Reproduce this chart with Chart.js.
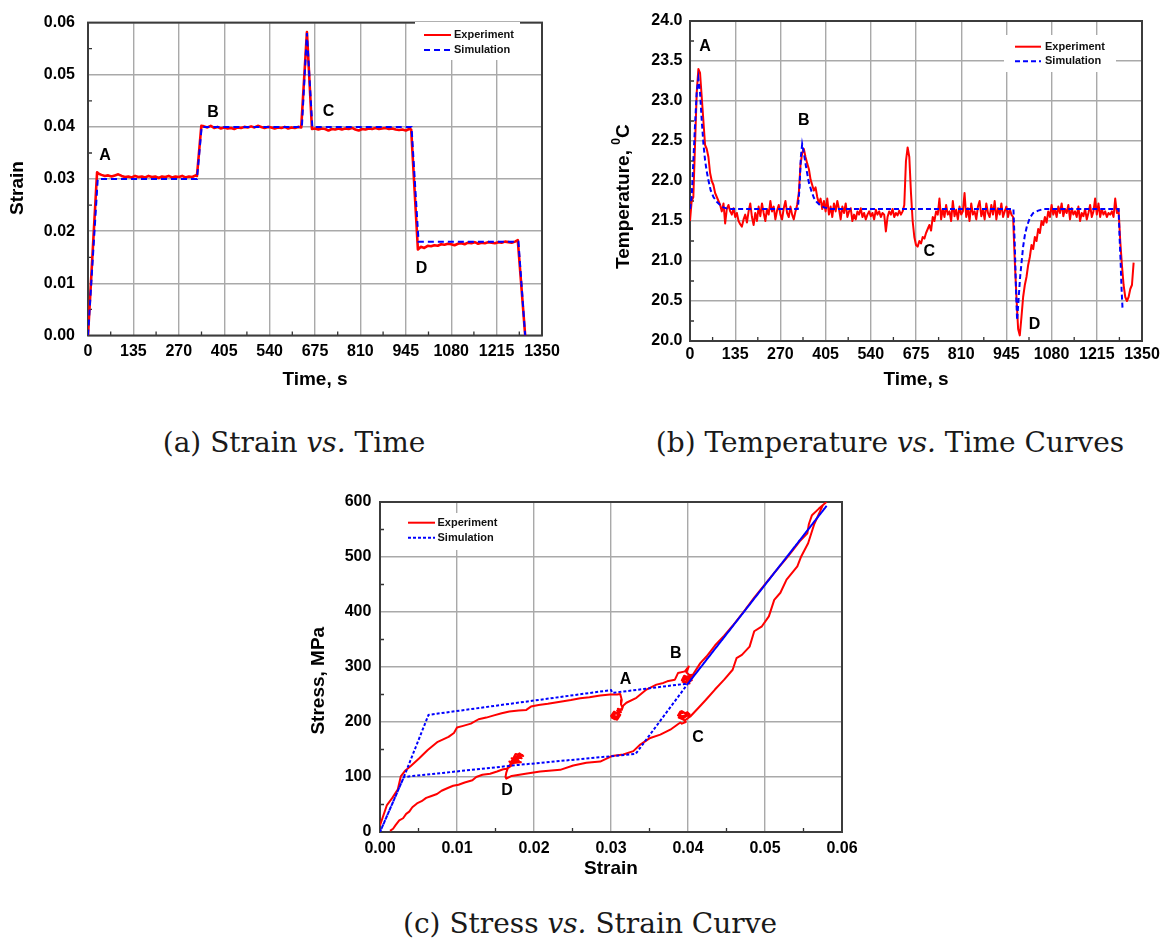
<!DOCTYPE html>
<html>
<head>
<meta charset="utf-8">
<script src="https://cdn.jsdelivr.net/npm/chart.js@4.4.1/dist/chart.umd.min.js"></script>
<style>
  body { margin: 0; background: #fff; width: 1166px; height: 951px; position: relative; overflow: hidden; }
  .box { position: absolute; }
  .cap { position: absolute; width: 600px; text-align: center; font-family: "DejaVu Serif", serif;
         font-size: 28px; line-height: 28px; color: #1a1a1a; white-space: nowrap; }
</style>
</head>
<body>
<div class="box" style="left:0;top:0;width:580px;height:400px"><canvas id="strainChart"></canvas></div>
<div class="box" style="left:600px;top:0;width:566px;height:400px"><canvas id="tempChart"></canvas></div>
<div class="box" style="left:290px;top:480px;width:580px;height:410px"><canvas id="stressChart"></canvas></div>
<div class="cap" style="left:-6px;top:429px">(a) Strain <i>vs.</i> Time</div>
<div class="cap" style="left:590px;top:429px">(b) Temperature <i>vs.</i> Time Curves</div>
<div class="cap" style="left:290px;top:910px">(c) Stress <i>vs.</i> Strain Curve</div>
<script>
// ---- tick labels ----
const timeTicks = [0, 135, 270, 405, 540, 675, 810, 945, 1080, 1215, 1350];
const strainTicks = [0, 0.01, 0.02, 0.03, 0.04, 0.05, 0.06];
const tempTicks = [20.0, 20.5, 21.0, 21.5, 22.0, 22.5, 23.0, 23.5, 24.0];
const stressTicks = [0, 100, 200, 300, 400, 500, 600];

// ---- (a) strain vs time ----
const strainExpTime = [0, 27, 32, 40, 50, 60, 70, 80, 90, 100, 110, 120, 130, 140, 150, 160, 170, 180, 190, 200,
  210, 220, 230, 240, 250, 260, 270, 280, 290, 300, 310, 320, 324,
  337, 345, 355, 365, 375, 385, 395, 405, 415, 425, 435, 445, 455, 465, 475, 485, 495, 505, 515, 525, 535,
  545, 555, 565, 575, 585, 595, 605, 615, 625, 634,
  651, 666, 675, 685, 695, 705, 715, 725, 735, 745, 755, 765, 775, 785, 795, 805, 815, 825, 835, 845, 855,
  865, 875, 885, 895, 905, 915, 925, 935, 945, 955, 961,
  981, 990, 1000, 1010, 1020, 1030, 1040, 1050, 1060, 1070, 1080, 1090, 1100, 1110, 1120, 1130, 1140, 1150,
  1160, 1170, 1180, 1190, 1200, 1210, 1220, 1230, 1240, 1250, 1260, 1270, 1278, 1300];
const strainExp = [0, 0.0313, 0.0310, 0.0308, 0.0306, 0.0307, 0.0305, 0.0307, 0.0309, 0.0306, 0.0304, 0.0305,
  0.0303, 0.0306, 0.0304, 0.0305, 0.0303, 0.0306, 0.0304, 0.0305, 0.0302, 0.0305, 0.0304, 0.0306, 0.0303,
  0.0305, 0.0304, 0.0306, 0.0303, 0.0305, 0.0304, 0.0307, 0.0306,
  0.0402, 0.0401, 0.0399, 0.0402, 0.0398, 0.0400, 0.0397, 0.0399, 0.0397, 0.0398, 0.0396, 0.0399, 0.0398,
  0.0400, 0.0399, 0.0401, 0.0399, 0.0402, 0.0400, 0.0398, 0.0400, 0.0399, 0.0397, 0.0399, 0.0398, 0.0400,
  0.0397, 0.0399, 0.0398, 0.0400, 0.0399,
  0.0582, 0.0396, 0.0397, 0.0395, 0.0397, 0.0396, 0.0393, 0.0396, 0.0395, 0.0397, 0.0395, 0.0397, 0.0396,
  0.0398, 0.0395, 0.0393, 0.0396, 0.0395, 0.0397, 0.0396, 0.0398, 0.0396, 0.0397, 0.0398, 0.0396, 0.0397,
  0.0395, 0.0394, 0.0395, 0.0393, 0.0396, 0.0395,
  0.0165, 0.0170, 0.0168, 0.0172, 0.0171, 0.0173, 0.0172, 0.0175, 0.0174, 0.0176, 0.0175, 0.0173, 0.0176,
  0.0177, 0.0175, 0.0178, 0.0177, 0.0179, 0.0176, 0.0178, 0.0177, 0.0179, 0.0178, 0.0177, 0.0179, 0.0178,
  0.0180, 0.0179, 0.0178, 0.0180, 0.0183, 0];
const strainSimTime = [0, 29, 324, 338, 636, 651, 667, 962, 983, 1280, 1300];
const strainSim = [0, 0.030, 0.030, 0.040, 0.040, 0.058, 0.040, 0.040, 0.018, 0.018, 0];

// ---- (b) temperature vs time ----
const tempExpStep = 5; // seconds between samples, first sample at t = 0
const tempExp = [
  21.50, 21.75, 21.80, 22.45, 23.10, 23.40, 23.35, 23.05, 22.75, 22.45,
  22.40, 22.30, 22.10, 22.00, 21.95, 21.85, 21.80, 21.75, 21.70, 21.62,
  21.72, 21.47, 21.65, 21.70, 21.62, 21.58, 21.66, 21.55, 21.60, 21.50,
  21.46, 21.43, 21.52, 21.58, 21.48, 21.62, 21.72, 21.55, 21.45, 21.60,
  21.50, 21.68, 21.56, 21.72, 21.60, 21.50, 21.65, 21.58, 21.75, 21.62,
  21.68, 21.52, 21.63, 21.70, 21.58, 21.52, 21.66, 21.75, 21.60, 21.55,
  21.68, 21.58, 21.52, 21.62, 21.70, 21.85, 22.20, 22.35, 22.40, 22.30,
  22.22, 22.15, 22.02, 21.95, 21.88, 21.92, 21.80, 21.72, 21.78, 21.65,
  21.75, 21.62, 21.78, 21.58, 21.68, 21.55, 21.72, 21.62, 21.75, 21.65,
  21.52, 21.68, 21.60, 21.72, 21.55, 21.62, 21.66, 21.50, 21.58, 21.52,
  21.62, 21.58, 21.66, 21.55, 21.60, 21.52, 21.58, 21.62, 21.56, 21.60,
  21.52, 21.64, 21.58, 21.62, 21.55, 21.60, 21.58, 21.37, 21.55, 21.62,
  21.58, 21.65, 21.55, 21.60, 21.57, 21.63, 21.58, 21.62, 21.70, 22.25,
  22.42, 22.30, 21.85, 21.50, 21.30, 21.20, 21.18, 21.25, 21.22, 21.30,
  21.28, 21.35, 21.40, 21.45, 21.38, 21.55, 21.50, 21.62, 21.58, 21.78,
  21.52, 21.65, 21.55, 21.70, 21.58, 21.62, 21.50, 21.75, 21.56, 21.64,
  21.52, 21.68, 21.58, 21.62, 21.85, 21.55, 21.66, 21.50, 21.72, 21.58,
  21.62, 21.52, 21.68, 21.75, 21.56, 21.64, 21.52, 21.72, 21.60, 21.55,
  21.70, 21.58, 21.75, 21.52, 21.66, 21.58, 21.72, 21.55, 21.62, 21.68,
  21.55, 21.65, 21.58, 21.55, 21.00, 20.55, 20.15, 20.07, 20.30, 20.55,
  20.70, 20.80, 20.95, 21.05, 21.20, 21.15, 21.30, 21.25, 21.40, 21.35,
  21.50, 21.45, 21.55, 21.48, 21.62, 21.55, 21.70, 21.58, 21.65, 21.55,
  21.68, 21.60, 21.72, 21.56, 21.65, 21.60, 21.70, 21.52, 21.66, 21.58,
  21.62, 21.55, 21.68, 21.50, 21.60, 21.56, 21.65, 21.52, 21.60, 21.70,
  21.55, 21.62, 21.78, 21.58, 21.72, 21.55, 21.65, 21.58, 21.62, 21.55,
  21.60, 21.58, 21.62, 21.55, 21.78, 21.60, 21.65, 21.25, 20.95, 20.70,
  20.55, 20.50, 20.55, 20.65, 20.70, 20.98];
const tempSimTime = [0, 5, 10, 15, 20, 25, 30, 35, 40, 45, 50, 55, 62, 70, 80, 90, 100, 115,
  322, 327, 331, 335, 340, 348, 355, 363, 370, 378, 388, 400, 420,
  966, 970, 974, 977, 981, 986, 990, 995, 1000, 1006, 1015, 1025, 1040, 1055,
  1280, 1283, 1286, 1289, 1292];
const tempSim = [21.65, 21.80, 22.25, 22.70, 23.10, 23.28, 23.10, 22.76, 22.47, 22.26, 22.12, 22.01, 21.88,
  21.80, 21.74, 21.70, 21.67, 21.65,
  21.65, 21.90, 22.30, 22.46, 22.35, 22.14, 21.98, 21.87, 21.79, 21.74, 21.70, 21.67, 21.65,
  21.65, 21.20, 20.60, 20.26, 20.50, 20.80, 20.97, 21.18, 21.32, 21.43, 21.54, 21.60, 21.63, 21.65,
  21.65, 21.30, 21.00, 20.65, 20.39];

// ---- (c) stress vs strain, [strain, stress MPa] in the order they were recorded ----
const ssExpPoints = [
  [0.0000, 12], [0.0009, 49], [0.0016, 62], [0.0023, 77], [0.0027, 101], [0.0033, 112], [0.0040, 120],
  [0.0051, 134], [0.0062, 149], [0.0075, 164], [0.0089, 173], [0.0096, 180], [0.0100, 190], [0.0108, 193],
  [0.0118, 197], [0.0128, 205], [0.0138, 208], [0.0148, 212], [0.0158, 216], [0.0168, 219], [0.0180, 221],
  [0.0190, 222], [0.0196, 228], [0.0206, 231], [0.0218, 233], [0.0234, 237], [0.0248, 240], [0.0260, 243],
  [0.0272, 245], [0.0286, 248], [0.0299, 250], [0.0308, 250], [0.0312, 251],
  // hold at A
  [0.0314, 240], [0.0313, 232], [0.0315, 226], [0.0312, 222], [0.0309, 218], [0.0304, 214], [0.0301, 208],
  [0.0305, 205], [0.0310, 209], [0.0302, 212], [0.0307, 216], [0.0311, 211], [0.0303, 207], [0.0308, 204],
  [0.0312, 213], [0.0304, 219], [0.0300, 211], [0.0306, 206], [0.0311, 216], [0.0308, 221], [0.0313, 218],
  [0.0309, 224], [0.0314, 222], [0.0316, 230],
  [0.0320, 235], [0.0333, 244], [0.0346, 259], [0.0359, 268], [0.0368, 271], [0.0373, 274], [0.0383, 277],
  [0.0387, 289], [0.0396, 292], [0.0401, 301],
  // hold at B
  [0.0398, 290], [0.0403, 284], [0.0394, 280], [0.0400, 274], [0.0404, 279], [0.0395, 284], [0.0392, 276],
  [0.0399, 271], [0.0405, 276], [0.0397, 282], [0.0393, 273], [0.0402, 270], [0.0398, 280], [0.0404, 286],
  [0.0400, 278], [0.0405, 283],
  [0.0416, 307], [0.0424, 319], [0.0435, 339], [0.0447, 357], [0.0458, 375], [0.0472, 400], [0.0486, 426],
  [0.0502, 454], [0.0516, 478], [0.0528, 498], [0.0537, 514], [0.0546, 530], [0.0555, 543], [0.0557, 560],
  [0.0561, 576], [0.0570, 588], [0.0579, 599],
  // unloading
  [0.0575, 594], [0.0564, 560], [0.0556, 525], [0.0547, 501], [0.0542, 483], [0.0528, 459], [0.0520, 435],
  [0.0512, 422], [0.0505, 392], [0.0496, 374], [0.0486, 365], [0.0480, 337], [0.0470, 322], [0.0463, 316],
  [0.0458, 295], [0.0447, 277], [0.0435, 259], [0.0423, 240], [0.0417, 231], [0.0403, 210],
  // hold at C
  [0.0398, 216], [0.0390, 219], [0.0387, 212], [0.0394, 207], [0.0400, 213], [0.0392, 220], [0.0388, 208],
  [0.0396, 203], [0.0402, 209], [0.0395, 217], [0.0389, 215], [0.0393, 205], [0.0399, 218], [0.0402, 214],
  [0.0391, 210], [0.0397, 200], [0.0392, 197], [0.0390, 199],
  [0.0377, 186], [0.0364, 177], [0.0351, 171], [0.0338, 159], [0.0329, 147], [0.0316, 141], [0.0301, 138],
  [0.0286, 128], [0.0268, 126], [0.0251, 121], [0.0234, 113], [0.0208, 110], [0.0189, 106], [0.0171, 102],
  [0.0164, 97],
  // hold at D
  [0.0163, 100], [0.0164, 108], [0.0166, 116], [0.0172, 122], [0.0168, 128], [0.0176, 126], [0.0171, 134],
  [0.0180, 130], [0.0175, 138], [0.0184, 134], [0.0178, 141], [0.0186, 138], [0.0181, 143], [0.0174, 131],
  [0.0183, 127], [0.0170, 125], [0.0178, 133], [0.0185, 140], [0.0176, 142], [0.0168, 120], [0.0165, 115],
  [0.0160, 114], [0.0152, 110], [0.0143, 106], [0.0133, 104], [0.0125, 100], [0.0120, 94], [0.0110, 90],
  [0.0102, 86], [0.0095, 84], [0.0088, 80], [0.0080, 75], [0.0074, 69], [0.0066, 65], [0.0060, 62],
  [0.0054, 56], [0.0048, 52], [0.0042, 45], [0.0038, 37], [0.0034, 33], [0.0030, 25], [0.0025, 21],
  [0.0020, 12], [0.0017, 6], [0.0013, 2]];
const ssSimPoints = [[0, 0], [0.0031, 100], [0.0063, 213], [0.0300, 258], [0.0302, 253], [0.0400, 270],
  [0.0580, 593], [0.0400, 270], [0.0332, 142], [0.0180, 122], [0.0031, 100], [0, 0]];

// ---- styling ----
const red = '#ff0000';
const blue = '#0000ff';
const family = '"Liberation Sans", Arial, sans-serif';
const tickFont = { family, size: 16, weight: 'bold' };
const titleFont = { family, size: 19, weight: 'bold' };

const pts = (xs, ys) => xs.map((x, i) => ({ x, y: ys[i] }));
const pairs = p => p.map(([x, y]) => ({ x, y }));
const halfSteps = t => t.slice(1).map((v, i) => (v + t[i]) / 2);

// frame, minor ticks, legend, point letters and the y title
const decor = {
  id: 'decor',
  beforeDatasetsDraw(chart, args, o) {
    const { ctx, chartArea: a, scales: { x, y } } = chart;
    ctx.save();
    ctx.strokeStyle = '#333';
    ctx.lineWidth = 1.3;
    ctx.beginPath();
    o.minorY.forEach(v => { const p = y.getPixelForValue(v); ctx.moveTo(a.left, p); ctx.lineTo(a.left + 4, p); });
    o.minorX.forEach(v => { const p = x.getPixelForValue(v); ctx.moveTo(p, a.bottom); ctx.lineTo(p, a.bottom - 4); });
    ctx.stroke();
    ctx.strokeStyle = '#3c3c3c';
    ctx.lineWidth = 2;
    ctx.strokeRect(a.left, a.top, a.right - a.left, a.bottom - a.top);
    ctx.restore();
  },
  afterDatasetsDraw(chart, args, o) {
    const { ctx, scales: { x, y } } = chart;
    const lg = o.legend;
    ctx.save();
    ctx.fillStyle = '#fff';
    ctx.fillRect(lg.box[0], lg.box[1], lg.box[2], lg.box[3]);
    chart.data.datasets.forEach((ds, i) => {
      const yy = lg.rows[i];
      ctx.strokeStyle = ds.borderColor;
      ctx.lineWidth = 2;
      ctx.setLineDash(ds.borderDash || []);
      ctx.beginPath();
      ctx.moveTo(lg.x0, yy);
      ctx.lineTo(lg.x1, yy);
      ctx.stroke();
      ctx.setLineDash([]);
      ctx.fillStyle = '#111';
      ctx.font = 'bold 11px ' + family;
      ctx.textAlign = 'left';
      ctx.textBaseline = 'middle';
      ctx.fillText(ds.label, lg.tx, yy);
    });
    ctx.fillStyle = '#000';
    ctx.font = 'bold 16px ' + family;
    ctx.textAlign = 'center';
    ctx.textBaseline = 'middle';
    o.marks.forEach(m => ctx.fillText(m.text, x.getPixelForValue(m.x), y.getPixelForValue(m.y)));
    ctx.restore();
  },
  afterDraw(chart, args, o) {
    const { ctx } = chart;
    const t = o.yTitle;
    ctx.save();
    ctx.translate(t.x, t.y);
    ctx.rotate(-Math.PI / 2);
    ctx.fillStyle = '#000';
    ctx.textBaseline = 'middle';
    ctx.textAlign = 'left';
    const widths = t.parts.map(p => { ctx.font = 'bold ' + (p.size || 19) + 'px ' + family; return ctx.measureText(p.text).width; });
    let cx = -widths.reduce((s, w) => s + w, 0) / 2;
    t.parts.forEach((p, i) => {
      ctx.font = 'bold ' + (p.size || 19) + 'px ' + family;
      ctx.fillText(p.text, cx, p.dy || 0);
      cx += widths[i];
    });
    ctx.restore();
  }
};

function axis(a, horizontal) {
  return {
    type: 'linear', min: a.min, max: a.max,
    afterBuildTicks: s => { s.ticks = a.ticks.map(v => ({ value: v })); },
    afterFit: s => { if (horizontal) s.height = a.size; else s.width = a.size; },
    ticks: { font: tickFont, color: '#000', padding: a.pad, maxRotation: 0, autoSkip: false, callback: a.fmt },
    grid: { color: '#a9a9a9', lineWidth: 1.4, drawTicks: false },
    border: { display: false },
    title: a.title
      ? { display: true, text: a.title, font: titleFont, color: '#000', padding: { top: 0, bottom: a.titlePad } }
      : { display: false }
  };
}

function makeChart(id, datasets, cfg) {
  return new Chart(document.getElementById(id), {
    type: 'line',
    data: { datasets },
    options: {
      responsive: true,
      maintainAspectRatio: false,
      animation: false,
      events: [],
      layout: { padding: cfg.pad },
      elements: { point: { radius: 0 }, line: { tension: 0 } },
      plugins: { legend: { display: false }, tooltip: { enabled: false }, decor: cfg.decor },
      scales: { x: axis(cfg.x, true), y: axis(cfg.y, false) }
    },
    plugins: [decor]
  });
}

// (a)
makeChart('strainChart', [
  { label: 'Experiment', data: pts(strainExpTime, strainExp), borderColor: red, borderWidth: 2.6,
    borderJoinStyle: 'round', order: 2 },
  { label: 'Simulation', data: pts(strainSimTime, strainSim), borderColor: blue, borderWidth: 2,
    borderDash: [6, 4], order: 1 }
], {
  pad: { left: 0, top: 15, right: 38, bottom: 0 },
  x: { min: 0, max: 1350, ticks: timeTicks, size: 64.5, pad: 6, fmt: v => String(v), title: 'Time, s', titlePad: 8.6 },
  y: { min: 0, max: 0.06, ticks: strainTicks, size: 88, pad: 13, fmt: v => v.toFixed(2) },
  decor: {
    minorX: halfSteps(timeTicks), minorY: halfSteps(strainTicks),
    legend: { box: [415, 22, 105, 38], x0: 424, x1: 451, tx: 454, rows: [35, 50] },
    marks: [{ text: 'A', x: 51, y: 0.0345 }, { text: 'B', x: 372, y: 0.0428 },
            { text: 'C', x: 715, y: 0.0429 }, { text: 'D', x: 992, y: 0.0129 }],
    yTitle: { x: 18, y: 188, parts: [{ text: 'Strain' }] }
  }
});

// (b)
makeChart('tempChart', [
  { label: 'Experiment', data: tempExp.map((v, i) => ({ x: i * tempExpStep, y: v })), borderColor: red,
    borderWidth: 2, borderJoinStyle: 'round', order: 2 },
  { label: 'Simulation', data: pts(tempSimTime, tempSim), borderColor: blue, borderWidth: 2,
    borderDash: [5, 3], order: 1 }
], {
  pad: { left: 0, top: 21, right: 24, bottom: 0 },
  x: { min: 0, max: 1350, ticks: timeTicks, size: 59, pad: 4, fmt: v => String(v), title: 'Time, s', titlePad: 8.6 },
  y: { min: 20, max: 24, ticks: tempTicks, size: 90, pad: 7.5, fmt: v => v.toFixed(1) },
  decor: {
    minorX: halfSteps(timeTicks), minorY: halfSteps(tempTicks),
    legend: { box: [404, 35, 112, 37], x0: 415, x1: 441, tx: 445, rows: [46.7, 61.3] },
    marks: [{ text: 'A', x: 45, y: 23.68 }, { text: 'B', x: 340, y: 22.76 },
            { text: 'C', x: 715, y: 21.12 }, { text: 'D', x: 1029, y: 20.21 }],
    yTitle: { x: 23.5, y: 196.7, parts: [{ text: 'Temperature, ' }, { text: '0', size: 12, dy: -7 }, { text: 'C' }] }
  }
});

// (c)
makeChart('stressChart', [
  { label: 'Experiment', data: pairs(ssExpPoints), borderColor: red, borderWidth: 2,
    borderJoinStyle: 'round', order: 2 },
  { label: 'Simulation', data: pairs(ssSimPoints), borderColor: blue, borderWidth: 2,
    borderDash: [3, 2], order: 1 }
], {
  pad: { left: 0, top: 22, right: 28, bottom: 0 },
  x: { min: 0, max: 0.06, ticks: strainTicks, size: 58, pad: 7, fmt: v => v.toFixed(2), title: 'Strain', titlePad: 10.3 },
  y: { min: 0, max: 600, ticks: stressTicks, size: 90, pad: 8.6, fmt: v => String(v) },
  decor: {
    minorX: halfSteps(strainTicks), minorY: halfSteps(stressTicks),
    legend: { box: [112, 33, 98, 37], x0: 118, x1: 145, tx: 147.5, rows: [42.7, 57.7] },
    marks: [{ text: 'A', x: 0.0319, y: 278 }, { text: 'B', x: 0.0384, y: 325 },
            { text: 'C', x: 0.0413, y: 171 }, { text: 'D', x: 0.0165, y: 76 }],
    yTitle: { x: 28.6, y: 200.7, parts: [{ text: 'Stress, MPa' }] }
  }
});
</script>
</body>
</html>
